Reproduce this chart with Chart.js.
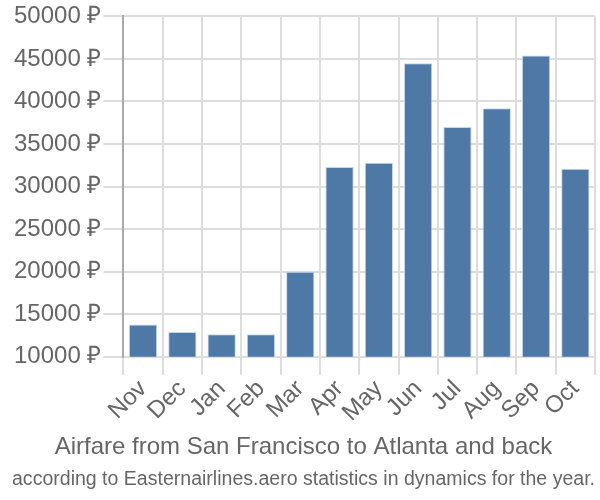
<!DOCTYPE html>
<html>
<head>
<meta charset="utf-8">
<script src="https://cdn.jsdelivr.net/npm/chart.js@4/dist/chart.umd.min.js"></script>
<style>
  body { margin: 0; background: #fff; }
  #wrap { width: 600px; height: 500px; }
</style>
</head>
<body>
<div id="wrap"><canvas id="fareChart"></canvas></div>
<script>
var months = ['Nov', 'Dec', 'Jan', 'Feb', 'Mar', 'Apr', 'May', 'Jun', 'Jul', 'Aug', 'Sep', 'Oct'];
var prices = [13800, 12900, 12650, 12650, 20000, 32300, 32800, 44500, 37000, 39200, 45400, 32100];
var yTicks = [10000, 15000, 20000, 25000, 30000, 35000, 40000, 45000, 50000];

var fareChart = document.getElementById('fareChart');

var barChart = new Chart(fareChart, {
  type: 'bar',
  data: {
    labels: months,
    datasets: [{
      label: 'Airfare',
      data: prices,
      backgroundColor: '#4e79a7',
      borderColor: '#c8d6e8',
      borderWidth: 1,
      barPercentage: 0.72,
      categoryPercentage: 1
    }]
  },
  options: {
    responsive: true,
    maintainAspectRatio: false,
    animation: false,
    layout: {
      padding: { left: 12, right: 5, top: 0, bottom: 0 }
    },
    plugins: {
      legend: { display: false },
      tooltip: { enabled: false },
      title: {
        display: true,
        position: 'bottom',
        weight: 1500,
        text: 'Airfare from San Francisco to Atlanta and back',
        color: '#666',
        font: { family: 'Liberation Sans', size: 24, weight: 'normal' },
        padding: { top: 6, bottom: 3 }
      },
      subtitle: {
        display: true,
        position: 'bottom',
        weight: 3000,
        text: 'according to Easternairlines.aero statistics in dynamics for the year.',
        color: '#666',
        font: { family: 'Liberation Sans', size: 20, weight: 'normal' },
        padding: { top: 2, bottom: 9 }
      }
    },
    scales: {
      x: {
        grid: { color: '#ddd', lineWidth: 2, tickLength: 18, offset: true },
        border: { display: false },
        ticks: {
          color: '#666',
          font: { family: 'Liberation Sans', size: 24 },
          autoSkip: false,
          maxRotation: 45,
          minRotation: 45,
          padding: 0
        }
      },
      y: {
        min: 10000,
        max: 50000,
        afterBuildTicks: function (axis) {
          axis.ticks = yTicks.map(function (v) { return { value: v }; });
        },
        grid: { color: '#ddd', lineWidth: 2, tickLength: 20 },
        border: { color: '#aaa', width: 2 },
        ticks: {
          color: '#666',
          font: { family: 'Liberation Sans', size: 24 },
          padding: 2,
          callback: function (v) { return v + ' ₽'; }
        }
      }
    }
  }
});
</script>
</body>
</html>
